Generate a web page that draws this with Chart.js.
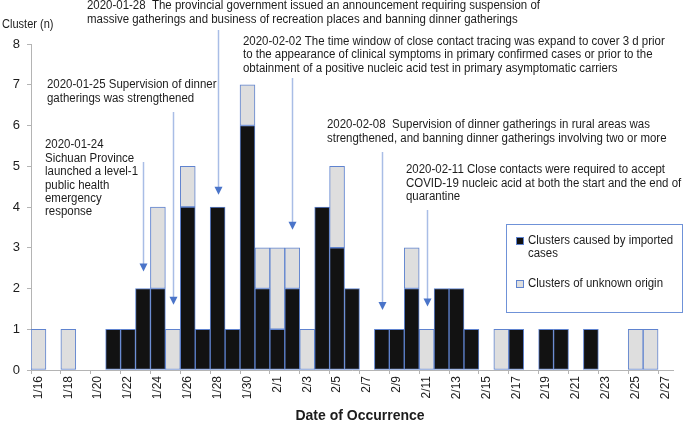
<!DOCTYPE html>
<html lang="en">
<head>
    <meta charset="UTF-8">
    <title>Clusters by Date of Occurrence</title>
    <script src="https://cdn.jsdelivr.net/npm/chart.js"></script>
    <style>
        html, body { margin: 0; padding: 0; background: #fff; }
        #wrap { width: 685px; height: 423px; position: relative; }
    </style>
</head>
<body>
    <div id="wrap"><canvas id="clusterChart"></canvas></div>

    <script>
        const dates = ['1/16','1/17','1/18','1/19','1/20','1/21','1/22','1/23','1/24','1/25','1/26','1/27','1/28','1/29','1/30','1/31',
                       '2/1','2/2','2/3','2/4','2/5','2/6','2/7','2/8','2/9','2/10','2/11','2/12','2/13','2/14','2/15','2/16','2/17',
                       '2/18','2/19','2/20','2/21','2/22','2/23','2/24','2/25','2/26','2/27'];
        const imported = [0,0,0,0,0,1,1,2,2,0,4,1,4,1,6,2,
                          1,2,0,4,3,2,0,1,1,2,0,2,2,1,0,0,1,
                          0,1,1,0,1,0,0,0,0,0];
        const unknown  = [1,0,1,0,0,0,0,0,2,1,1,0,0,0,1,1,
                          2,1,1,0,2,0,0,0,0,1,1,0,0,0,0,1,0,
                          0,0,0,0,0,0,0,1,1,0];
        const yTicks = [0,1,2,3,4,5,6,7,8];

        const BLUE = '#5f83cf';
        const FONT = '"Liberation Sans", Arial, sans-serif';

        // annotations: text block + arrow pointing at a date
        const notes = [
            { date: '1/28', x: 87, y: 6, top: 30, tip: 4.3,
              lines: ['2020-01-28  The provincial government issued an announcement requiring suspension of',
                      'massive gatherings and business of recreation places and banning dinner gatherings'] },
            { date: '1/25', x: 47, y: 85, top: 112, tip: 1.6,
              lines: ['2020-01-25 Supervision of dinner', 'gatherings was strengthened'] },
            { date: '1/23', x: 45, y: 145, top: 162, tip: 2.42,
              lines: ['2020-01-24', 'Sichuan Province', 'launched a level-1', 'public health', 'emergency', 'response'] },
            { date: '2/2', x: 243, y: 41.7, top: 78, tip: 3.44,
              lines: ['2020-02-02 The time window of close contact tracing was expand to cover 3 d prior',
                      'to the appearance of clinical symptoms in primary confirmed cases or prior to the',
                      'obtainment of a positive nucleic acid test in primary asymptomatic carriers'] },
            { date: '2/8', x: 327, y: 125, top: 152, tip: 1.47,
              lines: ['2020-02-08  Supervision of dinner gatherings in rural areas was',
                      'strengthened, and banning dinner gatherings involving two or more'] },
            { date: '2/11', x: 406, y: 170, top: 210, tip: 1.56,
              lines: ['2020-02-11 Close contacts were required to accept',
                      'COVID-19 nucleic acid at both the start and the end of',
                      'quarantine'] }
        ];

        // slightly condensed text, like the original figure
        function label(ctx, text, x, y, sx) {
            ctx.save();
            ctx.translate(x, y);
            ctx.scale(sx, 1);
            ctx.fillText(text, 0, 0);
            ctx.restore();
        }

        const overlay = {
            id: 'overlay',
            afterDraw(chart) {
                const ctx = chart.ctx;
                const xs = chart.scales.x, ys = chart.scales.y;
                ctx.save();

                // arrows
                notes.forEach(n => {
                    const px = Math.round(xs.getPixelForValue(dates.indexOf(n.date))) + 0.5;
                    const tipY = ys.getPixelForValue(n.tip);
                    ctx.strokeStyle = '#a9bde6';
                    ctx.lineWidth = 1.5;
                    ctx.beginPath();
                    ctx.moveTo(px, n.top);
                    ctx.lineTo(px, tipY - 6);
                    ctx.stroke();
                    ctx.fillStyle = '#4a74c9';
                    ctx.beginPath();
                    ctx.moveTo(px - 4, tipY - 8);
                    ctx.lineTo(px + 4, tipY - 8);
                    ctx.lineTo(px, tipY);
                    ctx.closePath();
                    ctx.fill();
                });

                // annotation text
                ctx.fillStyle = '#1c1c1c';
                ctx.font = '12px ' + FONT;
                ctx.textAlign = 'left';
                ctx.textBaseline = 'middle';
                notes.forEach(n => {
                    n.lines.forEach((t, i) => label(ctx, t, n.x, n.y + i * 13.4, 0.955));
                });

                // y axis title
                label(ctx, 'Cluster (n)', 2, 25, 0.92);

                // x axis title
                ctx.font = 'bold 14px ' + FONT;
                ctx.textAlign = 'center';
                ctx.fillText('Date of Occurrence', 360, 416);

                // legend
                ctx.strokeStyle = '#6f92d8';
                ctx.lineWidth = 1;
                ctx.strokeRect(506.5, 224.5, 176, 88);
                ctx.textAlign = 'left';
                ctx.font = '12px ' + FONT;
                ctx.fillStyle = '#111';
                ctx.fillRect(516.5, 237.5, 7, 7);
                ctx.strokeStyle = BLUE;
                ctx.strokeRect(516.5, 237.5, 7, 7);
                ctx.fillStyle = '#dedede';
                ctx.fillRect(516.5, 280.5, 7, 7);
                ctx.strokeRect(516.5, 280.5, 7, 7);
                ctx.fillStyle = '#1c1c1c';
                label(ctx, 'Clusters caused by imported', 528, 241, 0.955);
                label(ctx, 'cases', 528, 254, 0.955);
                label(ctx, 'Clusters of unknown origin', 528, 284, 0.955);

                ctx.restore();
            }
        };

        const ctx = document.getElementById('clusterChart').getContext('2d');
        new Chart(ctx, {
            type: 'bar',
            data: {
                labels: dates,
                datasets: [{
                    label: 'Clusters caused by imported cases',
                    data: imported.map(v => v || null),
                    backgroundColor: '#121212',
                    borderColor: BLUE,
                    borderWidth: 1,
                    borderSkipped: false
                }, {
                    label: 'Clusters of unknown origin',
                    data: unknown.map(v => v || null),
                    backgroundColor: '#dedede',
                    borderColor: BLUE,
                    borderWidth: 1,
                    borderSkipped: false
                }]
            },
            options: {
                responsive: true,
                maintainAspectRatio: false,
                animation: false,
                layout: { padding: { top: 44, right: 12, bottom: 0, left: 0 } },
                datasets: { bar: { categoryPercentage: 1.0, barPercentage: 1.0 } },
                plugins: {
                    legend: { display: false },
                    tooltip: { enabled: false }
                },
                scales: {
                    x: {
                        stacked: true,
                        afterFit(scale) { scale.height = 53; },
                        border: { color: '#b4b4b4', width: 1 },
                        grid: {
                            drawOnChartArea: false,
                            tickLength: 4,
                            color: c => (c.index % 2 === 0 ? '#b4b4b4' : 'rgba(0,0,0,0)')
                        },
                        ticks: {
                            autoSkip: false,
                            minRotation: 90,
                            maxRotation: 90,
                            padding: 2,
                            color: '#1c1c1c',
                            font: { family: FONT, size: 12 },
                            callback: (v, i) => (i % 2 === 0 ? dates[i] : '')
                        }
                    },
                    y: {
                        stacked: true,
                        min: 0,
                        max: 8,
                        afterFit(scale) { scale.width = 31; },
                        afterBuildTicks(scale) { scale.ticks = yTicks.map(v => ({ value: v })); },
                        border: { color: '#b4b4b4', width: 1 },
                        grid: { drawOnChartArea: false, tickLength: 4, color: '#b4b4b4' },
                        ticks: {
                            padding: 7,
                            color: '#1c1c1c',
                            font: { family: FONT, size: 13 }
                        }
                    }
                }
            },
            plugins: [overlay]
        });
    </script>
</body>
</html>
